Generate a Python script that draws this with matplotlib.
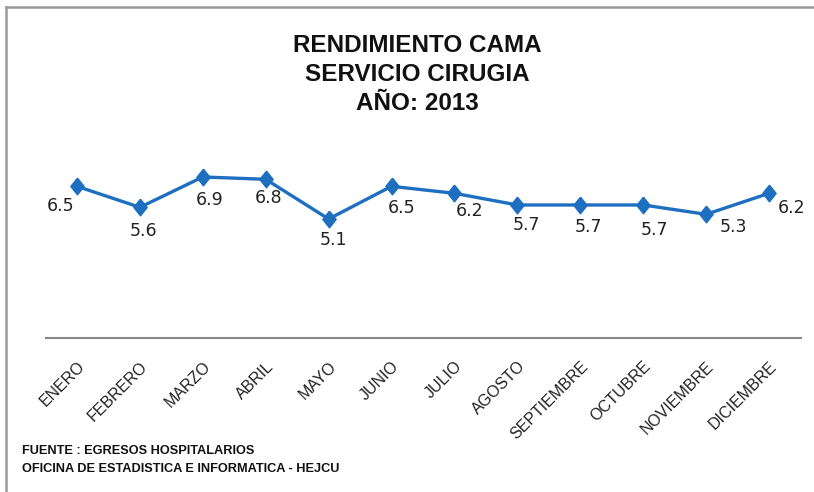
import matplotlib.pyplot as plt
from matplotlib.lines import Line2D

meses = ["ENERO", "FEBRERO", "MARZO", "ABRIL", "MAYO", "JUNIO", "JULIO",
         "AGOSTO", "SEPTIEMBRE", "OCTUBRE", "NOVIEMBRE", "DICIEMBRE"]
rendimiento = [6.5, 5.6, 6.9, 6.8, 5.1, 6.5, 6.2, 5.7, 5.7, 5.7, 5.3, 6.2]

# desplazamiento de etiquetas (pixeles) como en el original de Excel
offsets = [(-16, 20), (4, 24), (7, 23), (3, 19), (5, 21), (10, 22),
           (15, 18), (9, 20), (8, 22), (11, 25), (27, 13), (23, 15)]

W, H = 814, 492
fig = plt.figure(figsize=(W / 100, H / 100), dpi=100)
ax = fig.add_axes([45.5 / W, 1 - 338 / H, 755 / W, 186.7 / H])

azul = "#1F6FC1"
diamante = [(0, 1), (0.8, 0), (0, -1), (-0.8, 0), (0, 1)]
x = list(range(len(meses)))
ax.plot(x, rendimiento, color=azul, lw=2.4, marker=diamante, markersize=12,
        markerfacecolor=azul, markeredgecolor=azul, clip_on=False)

for i, v in enumerate(rendimiento):
    dx, dy = offsets[i]
    ax.annotate(f"{v:.1f}", (i, v), xytext=(dx, -dy), textcoords="offset pixels",
                ha="center", va="center", fontsize=12.5, family="DejaVu Sans",
                color="#222222")

ax.set_xlim(-0.5, 11.5)
ax.set_ylim(0, 8)
ax.set_yticks([])
ax.set_xticks(x)
ax.set_xticklabels(meses, rotation=45, ha="right", va="top", rotation_mode="anchor",
                   fontsize=11.5, family="Liberation Sans", color="#222222")
ax.tick_params(axis="x", length=0, pad=15)
for s in ["top", "right", "left"]:
    ax.spines[s].set_visible(False)
ax.spines["bottom"].set_color("#868686")
ax.spines["bottom"].set_linewidth(1.5)

# titulo
titulo = ["RENDIMIENTO CAMA", "SERVICIO CIRUGIA", "AÑO: 2013"]
for k, linea in enumerate(titulo):
    fig.text(417 / W, 1 - (52 + 29 * k) / H, linea, ha="center", va="baseline",
             fontsize=17.5, fontweight="bold", family="Liberation Sans", color="#111111")

fig.text(22 / W, 1 - 454 / H, "FUENTE : EGRESOS HOSPITALARIOS", ha="left", va="baseline",
         fontsize=9.2, fontweight="bold", family="Liberation Sans", color="#111111")
fig.text(22 / W, 1 - 472 / H, "OFICINA DE ESTADISTICA E INFORMATICA - HEJCU", ha="left",
         va="baseline", fontsize=9.2, fontweight="bold", family="Liberation Sans", color="#111111")

# marco del grafico
fig.add_artist(Line2D([6 / W, 6 / W], [0, 1 - 7 / H], transform=fig.transFigure,
                      color="#9A9A9A", lw=1.8))
fig.add_artist(Line2D([6 / W, 1], [1 - 7 / H, 1 - 7 / H], transform=fig.transFigure,
                      color="#9A9A9A", lw=1.8))

fig.savefig("out.png", dpi=100)
